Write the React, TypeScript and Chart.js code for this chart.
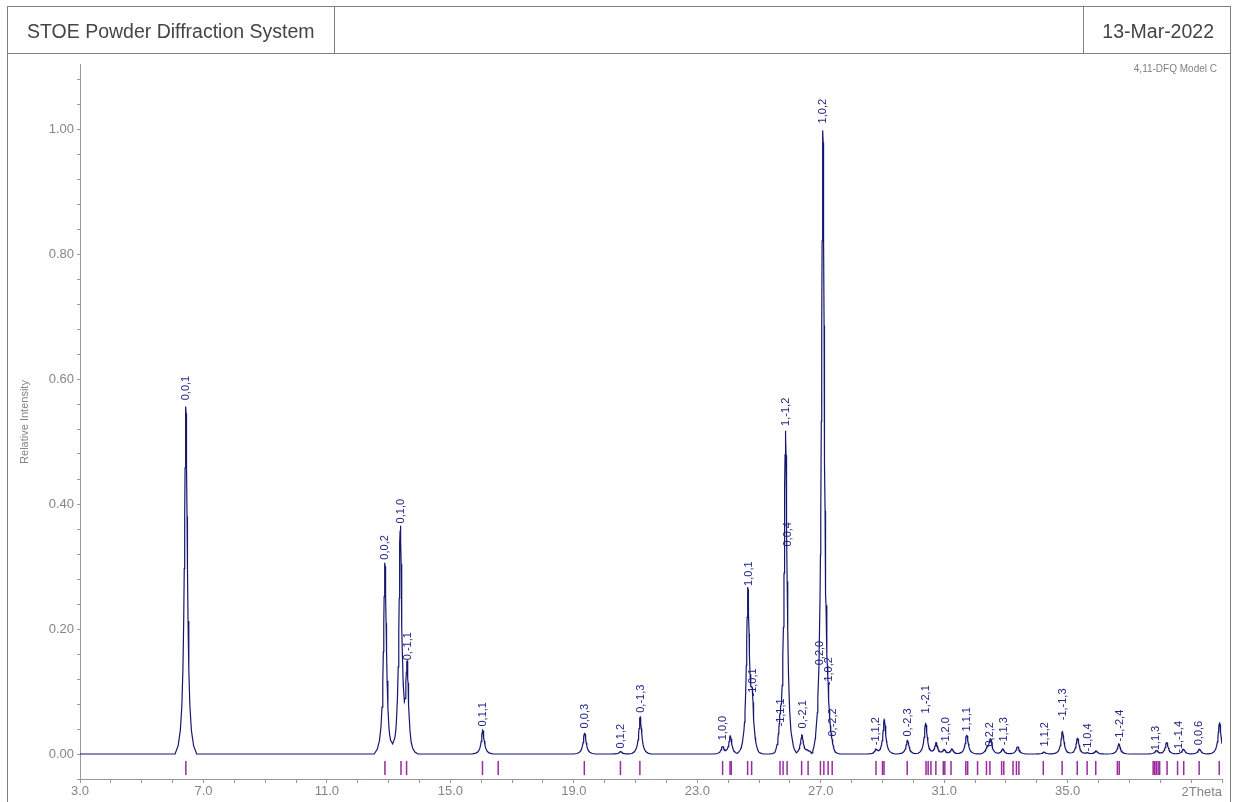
import React, { useEffect, useRef } from "react";
import { Chart, registerables } from "chart.js";

Chart.register(...registerables);

// ---- profile peaks (2Theta position, relative intensity) ----
const peakTwoTheta = [
  6.43, 12.88, 13.38, 13.6, 16.05, 19.35, 20.52, 21.15, 23.82, 24.07,
  24.64, 24.78, 25.68, 25.86, 26.39, 26.56, 26.65, 27.07, 27.24, 27.38,
  28.79, 29.06, 29.81, 30.4, 30.74, 31.0, 31.25, 31.73, 32.38, 32.5,
  32.9, 33.38, 34.24, 34.83, 35.32, 35.64, 35.92, 36.66, 37.88, 38.21,
  38.75, 39.27, 39.92,
];
const peakIntensity = [
  0.556, 0.306, 0.36, 0.135, 0.038, 0.034, 0.004, 0.059, 0.012, 0.029,
  0.258, 0.075, 0.03, 0.515, 0.03, 0.004, 0.003, 0.995, 0.035, 0.01,
  0.007, 0.055, 0.022, 0.05, 0.018, 0.007, 0.008, 0.031, 0.007, 0.024,
  0.008, 0.012, 0.003, 0.036, 0.026, 0.002, 0.005, 0.016, 0.006, 0.019,
  0.008, 0.008, 0.051,
];

// ---- hkl labels ----
const hklLabels = [
  "0,0,1", "0,0,2", "0,1,0", "0,-1,1", "0,1,1", "0,0,3", "0,1,2", "0,-1,3",
  "1,0,0", "1,0,1", "-1,0,1", "-1,1,1", "0,0,4", "1,-1,2", "0,-2,1", "0,2,0",
  "1,0,2", "-1,0,2", "0,-2,2", "-1,1,2", "0,-2,3", "1,-2,1", "-1,2,0", "1,1,1",
  "0,2,2", "-1,1,3", "1,1,2", "-1,-1,3", "-1,0,4", "-1,-2,4", "1,1,3", "-1,-1,4",
  "0,0,6",
];
const hklTwoTheta = [
  6.43, 12.88, 13.41, 13.61, 16.06, 19.36, 20.53, 21.17,
  23.83, 24.66, 24.8, 25.7, 25.93, 25.88, 26.41, 26.99,
  27.08, 27.28, 27.4, 28.8, 29.81, 30.42, 31.05, 31.74,
  32.48, 32.94, 34.26, 34.85, 35.66, 36.68, 37.87, 38.62,
  39.27,
];
const hklLevel = [
  0.566, 0.311, 0.369, 0.15, 0.044, 0.041, 0.009, 0.066,
  0.022, 0.269, 0.092, 0.044, 0.332, 0.525, 0.041, 0.142,
  1.009, 0.11, 0.028, 0.014, 0.028, 0.065, 0.014, 0.036,
  0.012, 0.014, 0.012, 0.054, 0.004, 0.02, 0.006, 0.002,
  0.014,
];

// ---- calculated reflection positions (purple markers) ----
const reflectionTwoTheta = [
  6.43, 12.88, 13.4, 13.58, 16.04, 16.55, 19.34, 20.51, 21.14, 23.82,
  24.06, 24.1, 24.63, 24.76, 25.68, 25.78, 25.91, 26.38, 26.59, 26.99,
  27.1, 27.24, 27.37, 28.79, 29.0, 29.05, 29.8, 30.41, 30.48, 30.57,
  30.73, 30.97, 31.02, 31.22, 31.7, 31.76, 32.08, 32.37, 32.48, 32.86,
  32.93, 33.23, 33.34, 33.42, 34.21, 34.82, 35.31, 35.63, 35.91, 36.61,
  36.67, 37.77, 37.82, 37.87, 37.93, 37.98, 38.22, 38.56, 38.76, 39.26,
  39.91,
];

// ---- axes ----
const xLabelTicks = [3, 7, 11, 15, 19, 23, 27, 31, 35];
const yLabelTicks = [0, 0.2, 0.4, 0.6, 0.8, 1.0];
const X_MIN = 3;
const X_MAX = 40;
const Y_MIN = -0.04;
const Y_MAX = 1.104;
const MARKER_LEVEL = -0.0225;

const HWHM = 0.057;
const CUT = 0.35;
const FONT = '"Liberation Sans", Arial, sans-serif';

function peakShape(d: number) {
  if (Math.abs(d) >= CUT) return 0;
  const L = 1 / (1 + (d / HWHM) ** 2);
  const Lc = 1 / (1 + (CUT / HWHM) ** 2);
  return (L - Lc) / (1 - Lc);
}

function buildProfile() {
  const offsets = [0, 0.008, 0.016, 0.026, 0.038, 0.052, 0.07, 0.095, 0.13, 0.18, 0.25, 0.35];
  const xs = new Set<number>([X_MIN, X_MAX]);
  peakTwoTheta.forEach((p) =>
    offsets.forEach((o) => {
      xs.add(+(p + o).toFixed(4));
      xs.add(+(p - o).toFixed(4));
    })
  );
  const sorted = [...xs].filter((v) => v >= X_MIN && v <= X_MAX).sort((a, b) => a - b);
  return sorted.map((x) => ({
    x,
    y: peakTwoTheta.reduce((s, p, i) => s + peakIntensity[i] * peakShape(x - p), 0),
  }));
}

const annotPlugin = {
  id: "annot",
  afterDatasetsDraw(chart: any) {
    const { ctx, scales } = chart;
    const xs = scales.x;
    const ys = scales.y;
    ctx.save();
    ctx.fillStyle = "#222684";
    ctx.font = `11px ${FONT}`;
    ctx.textAlign = "left";
    ctx.textBaseline = "middle";
    hklLabels.forEach((t, i) => {
      const px = xs.getPixelForValue(hklTwoTheta[i]);
      const py = ys.getPixelForValue(hklLevel[i]);
      ctx.save();
      ctx.translate(px, py);
      ctx.rotate(-Math.PI / 2);
      ctx.fillText(t, 0, 0);
      ctx.restore();
    });
    // axis title
    ctx.fillStyle = "#858585";
    ctx.font = `11px ${FONT}`;
    ctx.save();
    ctx.translate(25, 422);
    ctx.rotate(-Math.PI / 2);
    ctx.textAlign = "center";
    ctx.fillText("Relative Intensity", 0, 0);
    ctx.restore();
    ctx.font = `13px ${FONT}`;
    ctx.textAlign = "right";
    ctx.textBaseline = "middle";
    ctx.fillText("2Theta", xs.right, 792);
    ctx.restore();
  },
};

export default function App() {
  const ref = useRef<HTMLCanvasElement | null>(null);

  useEffect(() => {
    if (!ref.current) return;
    const chart = new Chart(ref.current, {
      type: "line",
      data: {
        datasets: [
          {
            label: "profile",
            data: buildProfile(),
            borderColor: "#16166e",
            borderWidth: 1.2,
            pointRadius: 0,
            tension: 0,
            fill: false,
          },
          {
            type: "scatter",
            label: "reflections",
            data: reflectionTwoTheta.map((v) => ({ x: v, y: MARKER_LEVEL })),
            pointStyle: "line",
            rotation: 90,
            radius: 7,
            borderColor: "#9b2a9b",
            backgroundColor: "#9b2a9b",
            borderWidth: 1.5,
          } as any,
        ],
      },
      options: {
        responsive: false,
        animation: false,
        events: [],
        layout: { padding: { top: 64, right: 11, left: 0, bottom: 0 } },
        plugins: { legend: { display: false }, tooltip: { enabled: false } },
        scales: {
          x: {
            type: "linear",
            min: X_MIN,
            max: X_MAX,
            afterBuildTicks: (s: any) => {
              const t = [];
              for (let v = X_MIN; v <= X_MAX; v += 1) t.push({ value: v });
              s.ticks = t;
            },
            afterFit: (s: any) => {
              s.height = 23;
            },
            ticks: {
              autoSkip: false,
              maxRotation: 0,
              padding: 1,
              color: "#858585",
              font: { family: FONT, size: 13 },
              callback: (v: any) => (xLabelTicks.includes(Number(v)) ? Number(v).toFixed(1) : ""),
            },
            grid: { drawOnChartArea: false, drawTicks: true, tickLength: 4, color: "#9a9a9a" },
            border: { display: true, color: "#9a9a9a", width: 1 },
          },
          y: {
            type: "linear",
            min: Y_MIN,
            max: Y_MAX,
            afterBuildTicks: (s: any) => {
              const t = [];
              for (let i = 0; i <= 28; i++) t.push({ value: Math.round((Y_MIN + i * 0.04) * 100) / 100 });
              s.ticks = t;
            },
            afterFit: (s: any) => {
              s.width = 80;
            },
            ticks: {
              autoSkip: false,
              padding: 3,
              color: "#858585",
              font: { family: FONT, size: 13 },
              callback: (v: any) => {
                const n = Number(v);
                return yLabelTicks.some((t) => Math.abs(t - n) < 1e-6) ? n.toFixed(2) : "";
              },
            },
            grid: { drawOnChartArea: false, drawTicks: true, tickLength: 3, color: "#9a9a9a" },
            border: { display: true, color: "#9a9a9a", width: 1 },
          },
        },
      },
      plugins: [annotPlugin],
    } as any);
    return () => chart.destroy();
  }, []);

  const line = "#808080";
  return (
    <div style={{ position: "relative", width: 1233, height: 802, background: "#fff", fontFamily: FONT, overflow: "hidden" }}>
      <style>{`body{margin:0}`}</style>
      <canvas ref={ref} width={1233} height={802} style={{ position: "absolute", left: 0, top: 0 }} />
      <div style={{ position: "absolute", left: 7, top: 6, width: 1224, height: 1, background: line }} />
      <div style={{ position: "absolute", left: 7, top: 53, width: 1224, height: 1, background: line }} />
      <div style={{ position: "absolute", left: 7, top: 6, width: 1, height: 796, background: line }} />
      <div style={{ position: "absolute", left: 1230, top: 6, width: 1, height: 796, background: line }} />
      <div style={{ position: "absolute", left: 334, top: 6, width: 1, height: 48, background: line }} />
      <div style={{ position: "absolute", left: 1083, top: 6, width: 1, height: 48, background: line }} />
      <div style={{ position: "absolute", left: 27, top: 19, fontSize: 19.5, lineHeight: "24px", color: "#454545", whiteSpace: "nowrap" }}>
        STOE Powder Diffraction System
      </div>
      <div style={{ position: "absolute", right: 19, top: 19, fontSize: 19.5, lineHeight: "24px", color: "#454545", whiteSpace: "nowrap" }}>
        13-Mar-2022
      </div>
      <div style={{ position: "absolute", right: 16, top: 62, fontSize: 10, lineHeight: "14px", color: "#808080", whiteSpace: "nowrap" }}>
        4,11-DFQ Model C
      </div>
    </div>
  );
}
